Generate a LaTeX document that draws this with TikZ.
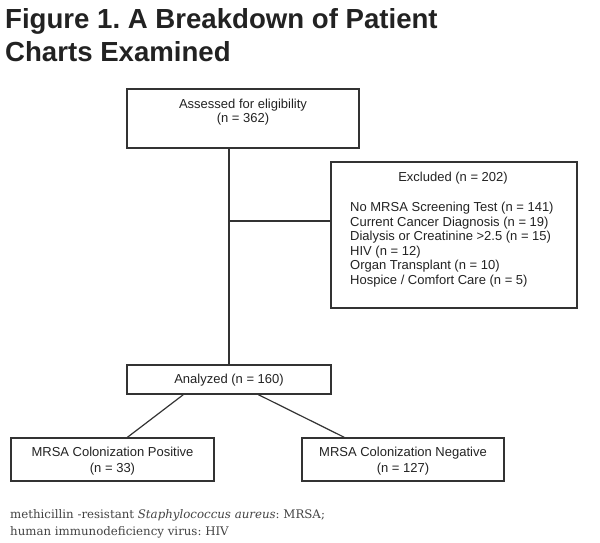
\documentclass[tikz,border=0pt]{standalone}
\usepackage{fontspec}
\setmainfont{Liberation Sans}
\newfontfamily\titlefont{Liberation Sans}
\newfontfamily\notefont{DejaVu Serif}
\usetikzlibrary{calc}
\frenchspacing
\definecolor{ink}{HTML}{222222}
\definecolor{edge}{HTML}{333333}
\tikzset{
  box/.style={draw=edge, line width=1.3pt, inner sep=0pt, rectangle},
  conn/.style={draw=edge, line width=1.2pt},
  txt/.style={inner sep=0pt, text=ink, font=\fontsize{13}{14.5}\selectfont},
  ttl/.style={inner sep=0pt, text=ink, font=\titlefont\bfseries\fontsize{27.6}{33}\selectfont},
  note/.style={inner sep=0pt, text=ink!85!white, font=\notefont\fontsize{11.8}{18}\selectfont}
}
\begin{document}
\begin{tikzpicture}[x=1pt,y=-1pt]
\useasboundingbox (0,0) rectangle (600,543);
% title
\node[ttl, anchor=base west] (t1) at (5,29) {Figure 1. A Breakdown of Patient};
\node[ttl, anchor=base west] (t2) at (5,61.5) {Charts Examined};
% boxes
\node[box, minimum width=232pt, minimum height=59pt] (assess) at (243,118.5) {};
\node[box, minimum width=246pt, minimum height=146pt] (excl) at (454,235) {};
\node[box, minimum width=204pt, minimum height=29pt] (ana) at (229,379.5) {};
\node[box, minimum width=203pt, minimum height=43pt] (pos) at (112.5,459.5) {};
\node[box, minimum width=202pt, minimum height=43pt] (neg) at (403,459.5) {};
% texts
\node[txt, anchor=base] (assessA) at (243,108.5) {Assessed for eligibility};
\node[txt, anchor=base] (assessB) at (243,122.5) {(n = 362)};
\node[txt, anchor=base] (exclH) at (453,181.5) {Excluded (n = 202)};
\node[txt, anchor=base west] (exc1) at (350,211.5) {No MRSA Screening Test (n = 141)};
\node[txt, anchor=base west] (exc2) at (350,226) {Current Cancer Diagnosis (n = 19)};
\node[txt, anchor=base west] (exc3) at (350,240.5) {Dialysis or Creatinine >2.5 (n = 15)};
\node[txt, anchor=base west] (exc4) at (350,255) {HIV (n = 12)};
\node[txt, anchor=base west] (exc5) at (350,269.5) {Organ Transplant (n = 10)};
\node[txt, anchor=base west] (exc6) at (350,284) {Hospice / Comfort Care (n = 5)};
\node[txt, anchor=base] (anaT) at (229,383.5) {Analyzed (n = 160)};
\node[txt, anchor=base] (posA) at (112.5,456.5) {MRSA Colonization Positive};
\node[txt, anchor=base] (posB) at (112.5,472.5) {(n = 33)};
\node[txt, anchor=base] (negA) at (403,456.5) {MRSA Colonization Negative};
\node[txt, anchor=base] (negB) at (403,472.5) {(n = 127)};
% connectors
\draw[conn] (assess.south -| ana.north) -- (ana.north);
\coordinate (j) at (229,221);
\draw[conn] (j) -- (j -| excl.west);
\draw[conn] ($(ana.south west)+(57,0)$) -- ($(pos.north west)+(117,0)$);
\draw[conn] ($(ana.south west)+(132,0)$) -- ($(neg.north west)+(43,0)$);
% footnote
\node[note, anchor=base west] (n1) at (10,518) {methicillin -resistant \textit{Staphylococcus aureus}: MRSA;};
\node[note, anchor=base west] (n2) at (10,535.7) {human immunodeficiency virus: HIV};
\end{tikzpicture}
\end{document}
